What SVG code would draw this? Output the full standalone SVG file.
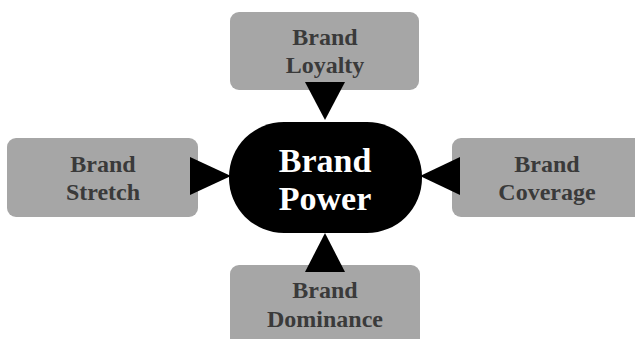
<svg xmlns="http://www.w3.org/2000/svg" width="635" height="339" viewBox="0 0 635 339">
<style>
.box{fill:#a6a6a6}
.lbl{font-family:"Liberation Serif","Times New Roman",serif;font-weight:bold;font-size:24px;fill:#3a3a3a;text-anchor:middle}
.ctr{font-family:"Liberation Serif","Times New Roman",serif;font-weight:bold;font-size:34px;fill:#ffffff;text-anchor:middle}
.arr{fill:#000000}
</style>
<rect width="635" height="339" fill="#ffffff"/>
<g id="loyalty">
<rect class="box" x="230" y="12" width="189" height="78" rx="9"/>
<text class="lbl" x="325" y="45">Brand</text>
<text class="lbl" x="325" y="73">Loyalty</text>
</g>
<g id="stretch">
<rect class="box" x="7" y="138" width="191" height="79" rx="9"/>
<text class="lbl" x="103" y="172">Brand</text>
<text class="lbl" x="103" y="200">Stretch</text>
</g>
<g id="coverage">
<rect class="box" x="452" y="138" width="191" height="79" rx="9"/>
<text class="lbl" x="547" y="172">Brand</text>
<text class="lbl" x="547" y="200">Coverage</text>
</g>
<g id="dominance">
<rect class="box" x="230" y="265" width="190" height="90" rx="9"/>
<text class="lbl" x="325" y="298">Brand</text>
<text class="lbl" x="325" y="327">Dominance</text>
</g>
<g id="connectors">
<polygon class="arr" points="305,82 345,82 325,120"/>
<polygon class="arr" points="190,157 190,195 231,176"/>
<polygon class="arr" points="460,157 460,195 420,176"/>
<polygon class="arr" points="305,272 345,272 325,233"/>
</g>
<g id="power">
<rect x="229" y="122" width="193" height="111" rx="55" ry="55" fill="#000000"/>
<text class="ctr" x="325" y="172">Brand</text>
<text class="ctr" x="325" y="210">Power</text>
</g>
</svg>
